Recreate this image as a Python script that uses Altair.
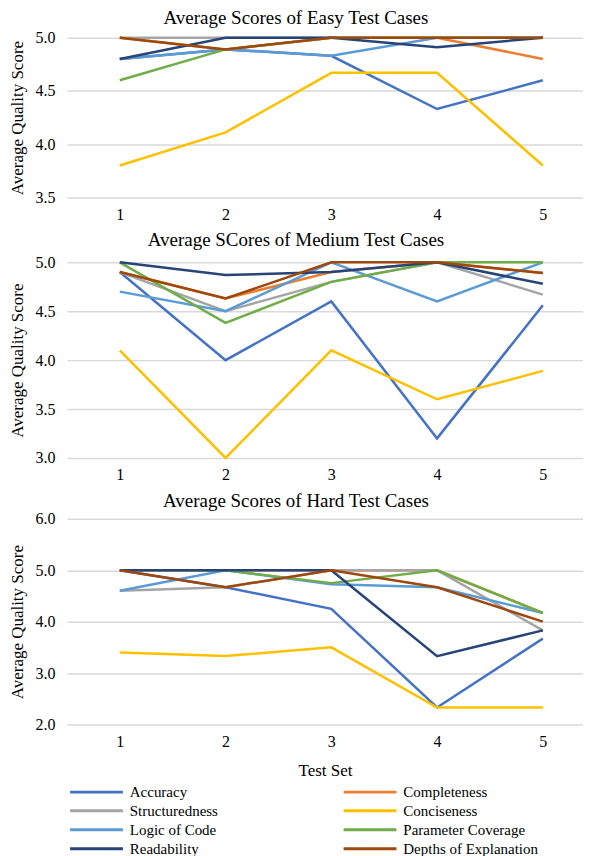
import altair as alt
import pandas as pd

series = ["Accuracy", "Completeness", "Structuredness", "Conciseness",
          "Logic of Code", "Parameter Coverage", "Readability", "Depths of Explanation"]
colors = ["#4472C4", "#ED7D31", "#A5A5A5", "#FFC000",
          "#5B9BD5", "#70AD47", "#264478", "#9E480E"]
test_sets = [1, 2, 3, 4, 5]

easy = {
    "Accuracy": [4.8, 4.89, 4.83, 4.33, 4.6],
    "Completeness": [5.0, 4.89, 5.0, 5.0, 4.8],
    "Structuredness": [5.0, 5.0, 5.0, 5.0, 5.0],
    "Conciseness": [3.8, 4.11, 4.67, 4.67, 3.8],
    "Logic of Code": [4.8, 4.89, 4.83, 5.0, 5.0],
    "Parameter Coverage": [4.6, 4.89, 5.0, 5.0, 5.0],
    "Readability": [4.8, 5.0, 5.0, 4.91, 5.0],
    "Depths of Explanation": [5.0, 4.89, 5.0, 5.0, 5.0],
}
medium = {
    "Accuracy": [4.9, 4.0, 4.6, 3.2, 4.56],
    "Completeness": [4.9, 4.63, 4.9, 5.0, 4.89],
    "Structuredness": [4.9, 4.5, 4.8, 5.0, 4.67],
    "Conciseness": [4.1, 3.0, 4.1, 3.6, 3.89],
    "Logic of Code": [4.7, 4.5, 5.0, 4.6, 5.0],
    "Parameter Coverage": [5.0, 4.38, 4.8, 5.0, 5.0],
    "Readability": [5.0, 4.87, 4.9, 5.0, 4.78],
    "Depths of Explanation": [4.9, 4.63, 5.0, 5.0, 4.89],
}
hard = {
    "Accuracy": [5.0, 4.67, 4.25, 2.33, 3.67],
    "Completeness": [5.0, 5.0, 5.0, 5.0, 4.17],
    "Structuredness": [4.6, 4.67, 5.0, 5.0, 3.83],
    "Conciseness": [3.4, 3.33, 3.5, 2.33, 2.33],
    "Logic of Code": [4.6, 5.0, 4.73, 4.67, 4.17],
    "Parameter Coverage": [5.0, 5.0, 4.75, 5.0, 4.17],
    "Readability": [5.0, 5.0, 5.0, 3.33, 3.83],
    "Depths of Explanation": [5.0, 4.67, 5.0, 4.67, 4.0],
}

FONT = "Liberation Serif"


def to_df(d):
    rows = []
    for s in series:
        for t, v in zip(test_sets, d[s]):
            rows.append({"Test Set": t, "Series": s, "Score": v})
    return pd.DataFrame(rows)


def panel(d, title, ydom, ystep, h, xtitle, toff):
    yvals = []
    v = ydom[0]
    while v <= ydom[1] + 1e-9:
        yvals.append(round(v, 2))
        v += ystep
    return alt.Chart(to_df(d)).mark_line(strokeWidth=2.5).encode(
        x=alt.X("Test Set:Q",
                scale=alt.Scale(domain=[0.5, 5.38], nice=False, zero=False),
                axis=alt.Axis(values=test_sets, format="d", grid=False, domain=False,
                              ticks=False, labelPadding=9, labelFontSize=16,
                              labelFont=FONT, titleFont=FONT,
                              title=xtitle, titleFontSize=17, titlePadding=13,
                              titleFontWeight="normal")),
        y=alt.Y("Score:Q",
                scale=alt.Scale(domain=ydom, nice=False, zero=False),
                axis=alt.Axis(values=yvals, format=".1f", grid=True, domain=False,
                              ticks=False, labelPadding=12, labelFontSize=16,
                              labelFont=FONT, titleFont=FONT,
                              title="Average Quality Score", titleFontSize=17,
                              titlePadding=8, titleFontWeight="normal")),
        color=alt.Color("Series:N", sort=series,
                        scale=alt.Scale(domain=series, range=colors),
                        legend=alt.Legend(orient="none", legendX=1, legendY=748,
                                          direction="horizontal",
                                          columns=2, columnPadding=119, title=None,
                                          symbolType="M-1,0L9,0", symbolSize=112,
                                          symbolStrokeWidth=3, labelFontSize=15,
                                          labelFont=FONT, rowPadding=3,
                                          labelOffset=47)),
    ).properties(
        width=517, height=h,
        title=alt.TitleParams(title, fontSize=19, font=FONT, fontWeight="normal",
                              anchor="middle", frame="bounds", offset=toff),
    )


p1 = panel(easy, "Average Scores of Easy Test Cases", [3.5, 5.0], 0.5, 160, None, 2)
p2 = panel(medium, "Average SCores of Medium Test Cases", [3.0, 5.0], 0.5, 196, None, 4)
p3 = panel(hard, "Average Scores of Hard Test Cases", [2.0, 6.0], 1.0, 206, "Test Set", 0)

chart = alt.vconcat(p1, p2, p3, spacing=9).properties(padding=0).configure(
    font=FONT,
).configure_axis(
    labelFont=FONT, titleFont=FONT, labelColor="#000000", titleColor="#000000",
    gridColor="#D9D9D9", gridWidth=1.5,
).configure_view(stroke=None).configure_legend(labelColor="#000000")

chart.save("out.html", embed_options={"renderer": "svg", "actions": False})
